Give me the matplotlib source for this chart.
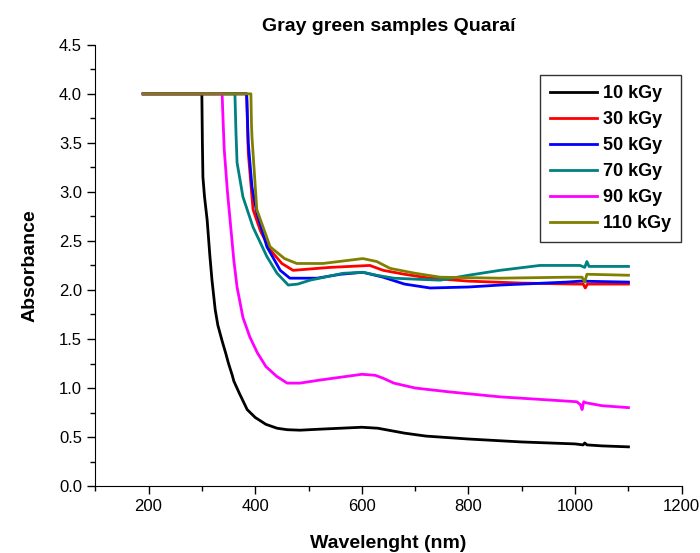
import matplotlib
matplotlib.use("Agg")
import matplotlib.pyplot as plt
from matplotlib.ticker import MultipleLocator

plt.rcParams['font.family'] = ['Liberation Sans', 'DejaVu Sans']

# data (wavelength nm, absorbance)
x10 = [190, 300, 301, 302, 305, 310, 315, 319, 325, 330, 338, 345, 350, 357, 360, 370, 385, 400, 420, 441,
       460, 484, 520, 560, 600, 630, 650, 680, 720, 800, 900, 1000, 1015, 1018, 1022, 1050, 1100]
y10 = [4.0, 4.0, 3.5, 3.15, 2.95, 2.71, 2.35, 2.1, 1.8, 1.64, 1.48, 1.35, 1.25, 1.13, 1.07, 0.95, 0.78, 0.7, 0.63, 0.59,
       0.575, 0.57, 0.58, 0.59, 0.60, 0.59, 0.57, 0.54, 0.51, 0.48, 0.45, 0.43, 0.42, 0.44, 0.42, 0.41, 0.40]

x30 = [190, 384, 387, 396, 410, 428, 450, 471, 540, 615, 640, 680, 728, 800, 900, 1000, 1015, 1019, 1023, 1100]
y30 = [4.0, 4.0, 3.4, 2.82, 2.60, 2.41, 2.27, 2.20, 2.23, 2.25, 2.20, 2.16, 2.12, 2.09, 2.07, 2.06, 2.06, 2.02, 2.06, 2.06]

x50 = [190, 384, 387, 394, 403, 422, 447, 465, 516, 560, 602, 640, 680, 728, 800, 859, 984, 1010, 1100]
y50 = [4.0, 4.0, 3.5, 3.05, 2.79, 2.44, 2.20, 2.12, 2.12, 2.16, 2.18, 2.13, 2.06, 2.02, 2.03, 2.05, 2.08, 2.09, 2.08]

x70 = [190, 362, 364, 366, 377, 396, 422, 441, 462, 480, 503, 565, 602, 628, 660, 700, 747, 800, 859, 934,
       1009, 1018, 1022, 1026, 1050, 1100]
y70 = [4.0, 4.0, 3.6, 3.3, 2.95, 2.64, 2.34, 2.17, 2.05, 2.06, 2.10, 2.17, 2.18, 2.15, 2.12, 2.11, 2.10, 2.15, 2.20, 2.25,
       2.25, 2.23, 2.29, 2.24, 2.24, 2.24]

x90 = [190, 338, 340, 342, 348, 353, 360, 366, 377, 390, 404, 420, 440, 460, 484, 520, 560, 600, 625, 640,
       660, 700, 765, 859, 1003, 1010, 1013, 1016, 1020, 1050, 1100]
y90 = [4.0, 4.0, 3.7, 3.43, 3.0, 2.71, 2.3, 2.03, 1.72, 1.52, 1.36, 1.22, 1.12, 1.05, 1.05, 1.08, 1.11, 1.14, 1.13, 1.10,
       1.05, 1.00, 0.96, 0.91, 0.86, 0.83, 0.78, 0.86, 0.85, 0.82, 0.80]

x110 = [190, 392, 393, 394, 403, 428, 455, 478, 527, 602, 628, 653, 700, 747, 859, 984, 1013, 1018, 1022, 1100]
y110 = [4.0, 4.0, 3.7, 3.56, 2.82, 2.44, 2.32, 2.27, 2.27, 2.32, 2.29, 2.22, 2.17, 2.13, 2.12, 2.13, 2.13, 2.08, 2.16, 2.15]

labels = ["10 kGy", "30 kGy", "50 kGy", "70 kGy", "90 kGy", "110 kGy"]
colors = ["#000000", "#FF0000", "#0000FF", "#008080", "#FF00FF", "#808000"]
xs = [x10, x30, x50, x70, x90, x110]
ys = [y10, y30, y50, y70, y90, y110]

fig = plt.figure(figsize=(7, 5.53), dpi=100)
ax = fig.add_axes([0.136, 0.121, 0.838, 0.798])

for x, y, c, lab in zip(xs, ys, colors, labels):
    ax.plot(x, y, color=c, lw=2.0, label=lab)

ax.set_xlim(100, 1200)
ax.set_ylim(0, 4.5)
ax.xaxis.set_major_locator(MultipleLocator(200))
ax.xaxis.set_minor_locator(MultipleLocator(100))
ax.yaxis.set_major_locator(MultipleLocator(0.5))
ax.yaxis.set_minor_locator(MultipleLocator(0.25))
ax.yaxis.set_major_formatter(matplotlib.ticker.FormatStrFormatter('%.1f'))
ax.tick_params(which='major', direction='out', length=6, width=1, labelsize=12)
ax.tick_params(which='minor', direction='out', length=3.5, width=1)
ax.spines['top'].set_visible(False)
ax.spines['right'].set_visible(False)

ax.set_xlabel("Wavelenght (nm)", fontsize=14, fontweight='bold', labelpad=15)
ax.set_ylabel("Absorbance", fontsize=14, fontweight='bold', labelpad=15)
ax.set_title("Gray green samples Quaraí", fontsize=14, fontweight='bold', pad=10)

leg = ax.legend(loc='upper right', bbox_to_anchor=(681 / 700, 1 - 75 / 553), bbox_transform=fig.transFigure,
                prop={'weight': 'bold', 'size': 13}, frameon=True, fancybox=False, edgecolor='black',
                handlelength=2.6, labelspacing=0.5, borderpad=0.55, handletextpad=0.35, borderaxespad=0)
leg.get_frame().set_linewidth(1)

fig.savefig("out.png", dpi=100)
